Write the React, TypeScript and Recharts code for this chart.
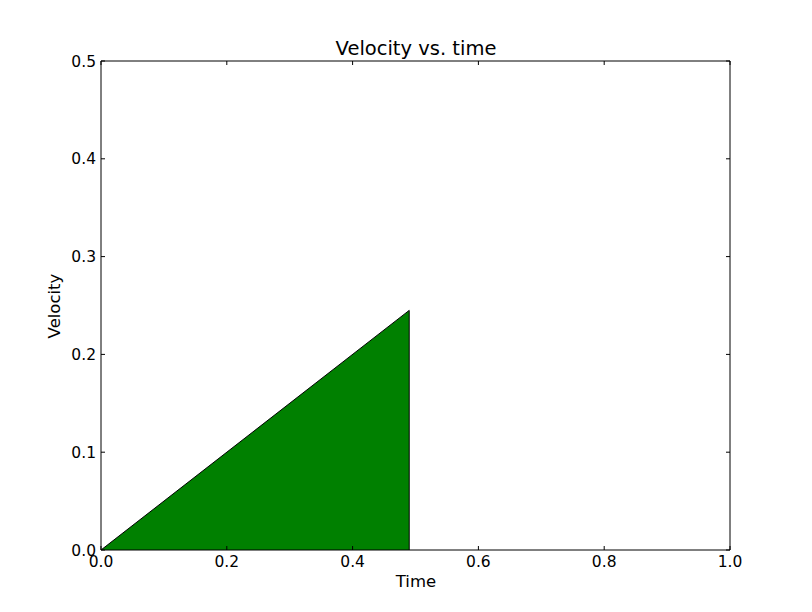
import React from 'react';
import { ComposedChart, Area, Line, XAxis, YAxis } from 'recharts';

// time samples and velocity values
const times = [0, 0.49, 0.49];
const velocities = [0, 0.245, 0];

const xTicks = [0, 0.2, 0.4, 0.6, 0.8, 1.0];
const yTicks = [0, 0.1, 0.2, 0.3, 0.4, 0.5];

const title = 'Velocity vs. time';
const xLabel = 'Time';
const yLabel = 'Velocity';

const data = times.map((t, i) => ({ t, v: velocities[i] }));

const FONT = '"DejaVu Sans", sans-serif';
const TICK_LEN = 4;

const BottomTick = (props: any) => {
  const { x, y, payload } = props;
  return (
    <g>
      <line x1={x} y1={y} x2={x} y2={y - TICK_LEN} stroke="#000" />
      <text x={x} y={y + 17} textAnchor="middle" fill="#000" fontSize={15.5} fontFamily={FONT}>
        {Number(payload.value).toFixed(1)}
      </text>
    </g>
  );
};

const TopTick = (props: any) => {
  const { x, y } = props;
  return <line x1={x} y1={y} x2={x} y2={y + TICK_LEN} stroke="#000" />;
};

const LeftTick = (props: any) => {
  const { x, y, payload } = props;
  return (
    <g>
      <line x1={x} y1={y} x2={x + TICK_LEN} y2={y} stroke="#000" />
      <text x={x - 5} y={y + 5.5} textAnchor="end" fill="#000" fontSize={15.5} fontFamily={FONT}>
        {Number(payload.value).toFixed(1)}
      </text>
    </g>
  );
};

const RightTick = (props: any) => {
  const { x, y } = props;
  return <line x1={x} y1={y} x2={x - TICK_LEN} y2={y} stroke="#000" />;
};

export default function App() {
  return (
    <div style={{ position: 'absolute', left: 0, top: 0, width: 812, height: 612, background: '#fff' }}>
      <ComposedChart width={812} height={612} data={data} margin={{ top: 60, right: 81, bottom: 0, left: 0 }}>
        <XAxis
          dataKey="t"
          type="number"
          domain={[0, 1]}
          ticks={xTicks}
          allowDataOverflow
          height={62}
          axisLine={{ stroke: '#000' }}
          tickLine={false}
          tickSize={0}
          tickMargin={0}
          tick={<BottomTick />}
          interval={0}
        />
        <XAxis
          xAxisId="top"
          dataKey="t"
          orientation="top"
          type="number"
          domain={[0, 1]}
          ticks={xTicks}
          allowDataOverflow
          height={1}
          axisLine={{ stroke: '#000' }}
          tickLine={false}
          tickSize={0}
          tickMargin={0}
          tick={<TopTick />}
          interval={0}
        />
        <YAxis
          type="number"
          domain={[0, 0.5]}
          ticks={yTicks}
          allowDataOverflow
          width={101}
          axisLine={{ stroke: '#000' }}
          tickLine={false}
          tickSize={0}
          tickMargin={0}
          tick={<LeftTick />}
          interval={0}
        />
        <YAxis
          yAxisId="right"
          orientation="right"
          type="number"
          domain={[0, 0.5]}
          ticks={yTicks}
          allowDataOverflow
          width={1}
          axisLine={{ stroke: '#000' }}
          tickLine={false}
          tickSize={0}
          tickMargin={0}
          tick={<RightTick />}
          interval={0}
        />
        <Area
          type="linear"
          dataKey="v"
          stroke="#000"
          strokeWidth={1}
          fill="#008000"
          fillOpacity={1}
          dot={false}
          activeDot={false}
          isAnimationActive={false}
        />
        {/* invisible series so the top and right frame axes get drawn */}
        <Line
          xAxisId="top"
          yAxisId="right"
          type="linear"
          dataKey="v"
          stroke="none"
          dot={false}
          activeDot={false}
          legendType="none"
          isAnimationActive={false}
        />
      </ComposedChart>
      <svg width={812} height={612} style={{ position: 'absolute', left: 0, top: 0, pointerEvents: 'none' }}>
        <text x={416} y={55} textAnchor="middle" fontSize={19.5} fontFamily={FONT} fill="#000">
          {title}
        </text>
        <text x={416} y={587} textAnchor="middle" fontSize={16.5} fontFamily={FONT} fill="#000">
          {xLabel}
        </text>
        <text x={60} y={306} textAnchor="middle" fontSize={16.5} fontFamily={FONT} fill="#000" transform="rotate(-90 60 306)">
          {yLabel}
        </text>
      </svg>
    </div>
  );
}
